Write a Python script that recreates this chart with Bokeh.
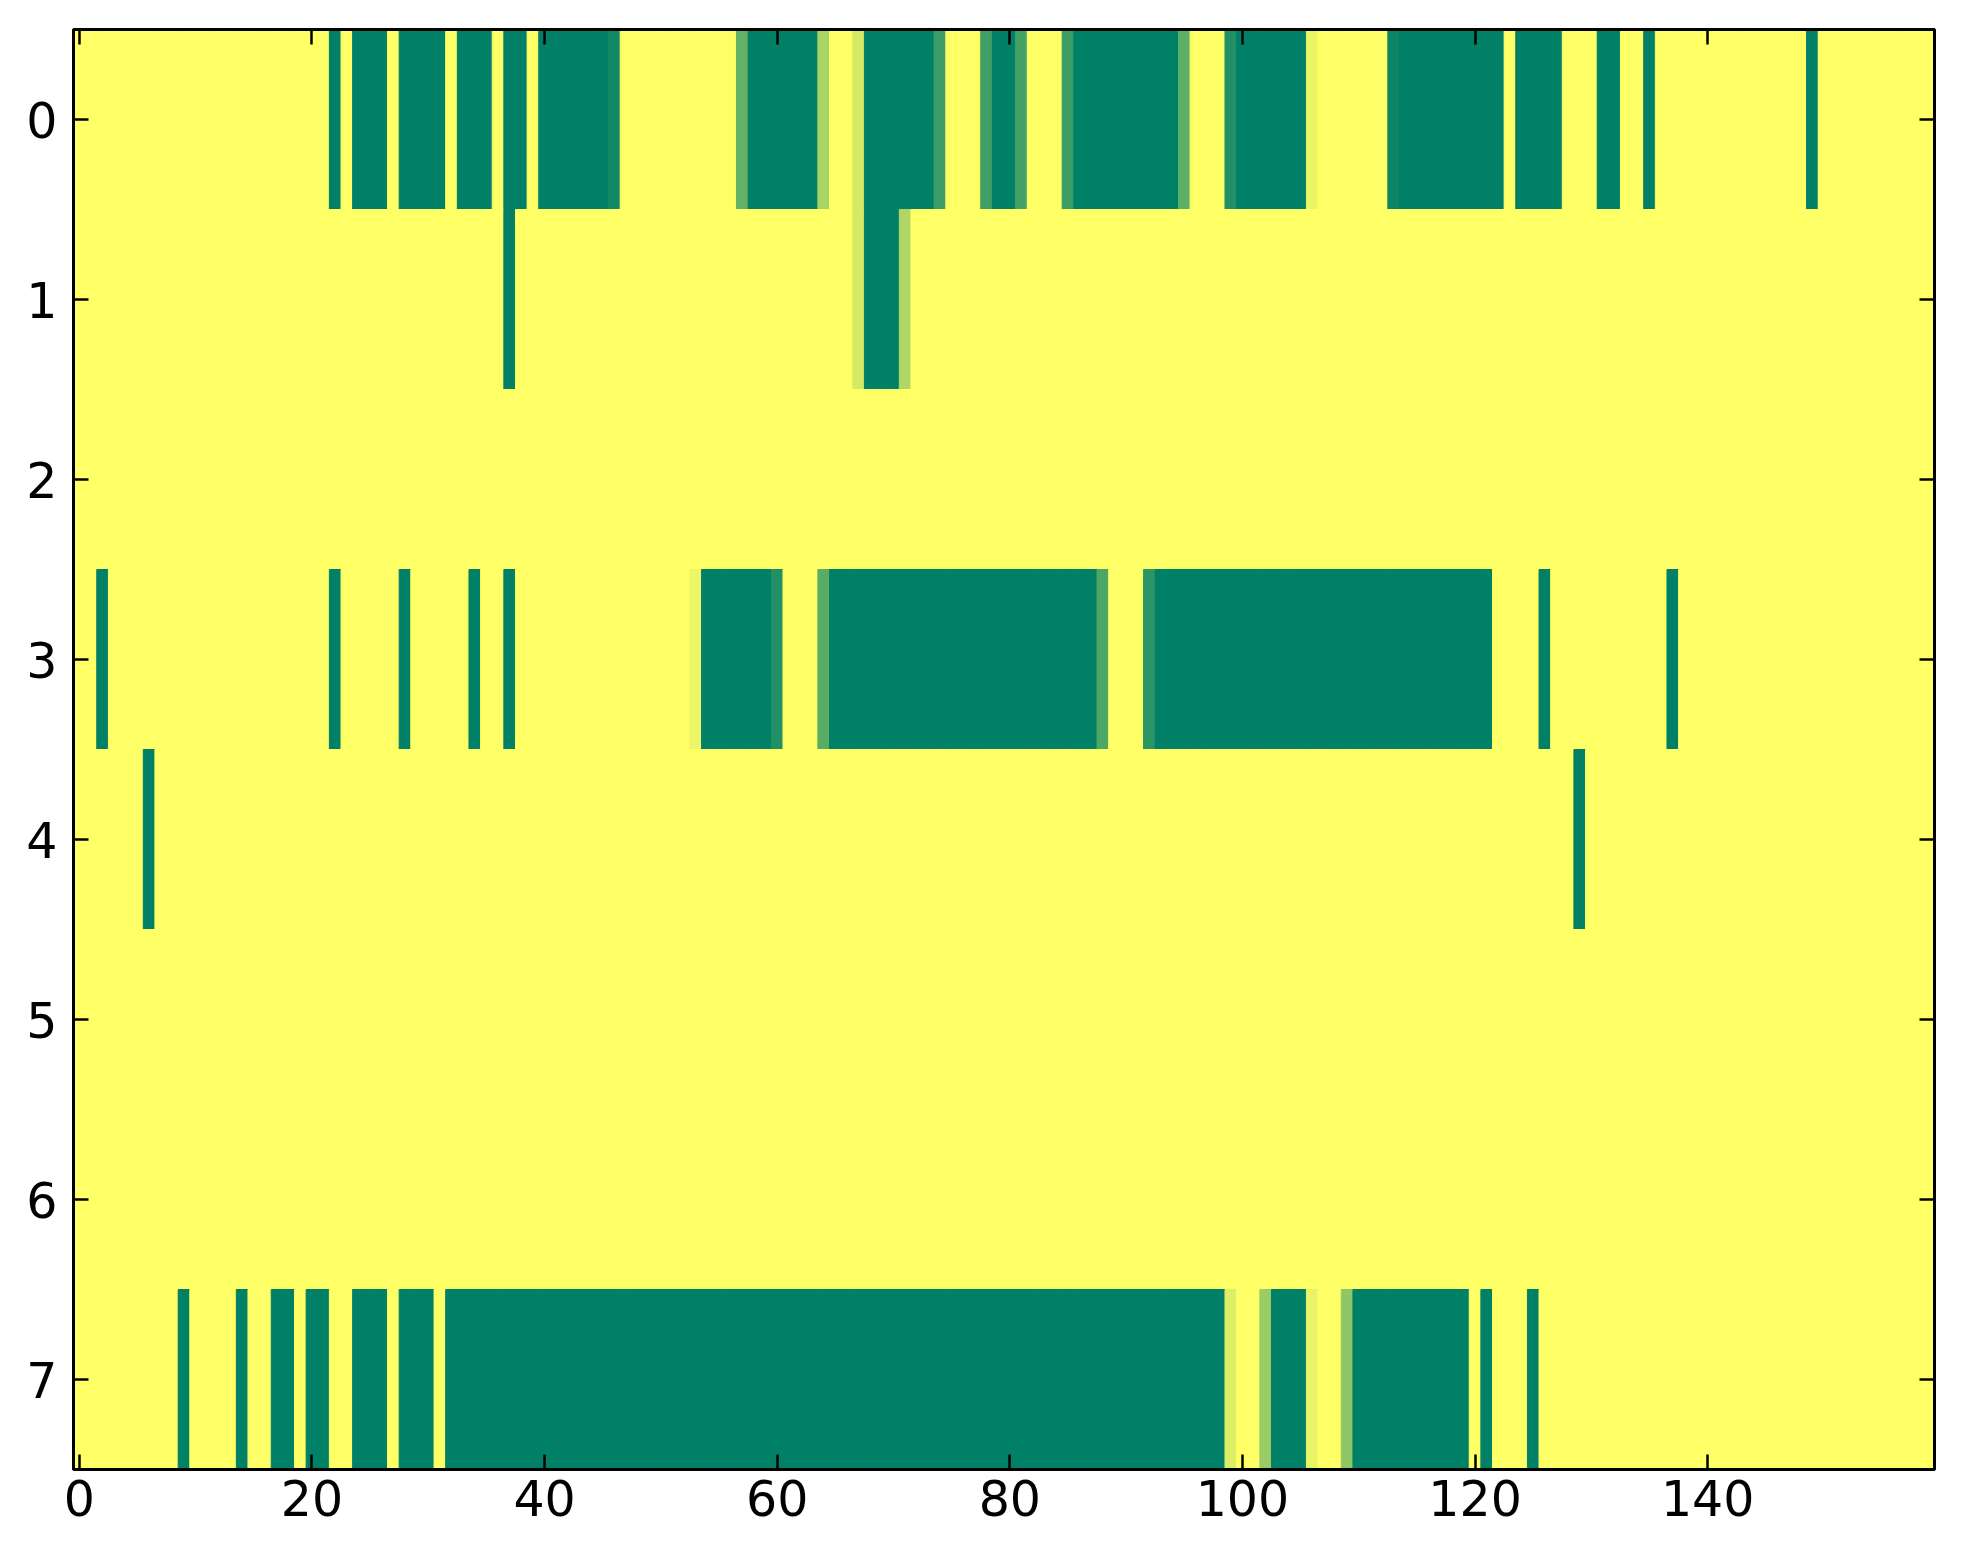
import numpy as np
from bokeh.plotting import figure
from bokeh.models import ColumnDataSource, FixedTicker, LinearAxis, CustomJSTickFormatter, Range1d
from bokeh.embed import file_html
from bokeh.resources import INLINE

n_rows = 8
n_cols = 160
y_ticks = [0, 1, 2, 3, 4, 5, 6, 7]
x_ticks = [0, 20, 40, 60, 80, 100, 120, 140]

# (first column, last column, value); everything else is 0
row0_runs = [(22, 22, 1.0), (24, 26, 1.0), (28, 31, 1.0), (33, 35, 1.0), (37, 38, 1.0),
             (40, 45, 1.0), (46, 46, 0.93), (57, 57, 0.61), (58, 63, 1.0), (64, 64, 0.34),
             (67, 67, 0.17), (68, 73, 1.0), (74, 74, 0.77), (78, 78, 0.75), (79, 80, 1.0),
             (81, 81, 0.73), (85, 85, 0.77), (86, 94, 1.0), (95, 95, 0.63), (99, 99, 0.87),
             (100, 105, 1.0), (106, 106, 0.08), (113, 113, 0.95), (114, 122, 1.0),
             (124, 127, 1.0), (131, 132, 1.0), (135, 135, 1.0), (149, 149, 1.0)]
row1_runs = [(37, 37, 1.0), (67, 67, 0.17), (68, 70, 1.0), (71, 71, 0.31)]
row2_runs = []
row3_runs = [(2, 2, 1.0), (22, 22, 1.0), (28, 28, 1.0), (34, 34, 1.0), (37, 37, 1.0),
             (53, 53, 0.07), (54, 59, 1.0), (60, 60, 0.87), (64, 64, 0.65), (65, 87, 1.0),
             (88, 88, 0.69), (92, 92, 0.83), (93, 121, 1.0), (126, 126, 1.0), (137, 137, 1.0)]
row4_runs = [(6, 6, 1.0), (129, 129, 1.0)]
row5_runs = []
row6_runs = []
row7_runs = [(9, 9, 1.0), (14, 14, 1.0), (17, 18, 1.0), (20, 21, 1.0), (24, 26, 1.0),
             (28, 30, 1.0), (32, 98, 1.0), (99, 99, 0.13), (102, 102, 0.40), (103, 105, 1.0),
             (106, 106, 0.09), (109, 109, 0.44), (110, 119, 1.0), (121, 121, 1.0),
             (125, 125, 1.0)]

rows = [row0_runs, row1_runs, row2_runs, row3_runs, row4_runs, row5_runs, row6_runs, row7_runs]

grid = np.zeros((n_rows, n_cols))
for r, runs in enumerate(rows):
    for a, b, v in runs:
        grid[r, a:b + 1] = v


def summer_r(v):
    t = 1.0 - v
    return "#%02x%02x%02x" % (int(round(255 * t)), int(round(255 * (0.5 + t / 2))), 102)


rr, cc = np.meshgrid(np.arange(n_rows), np.arange(n_cols), indexing="ij")
vals = grid.ravel()
source = ColumnDataSource(dict(
    left=cc.ravel() - 0.5, right=cc.ravel() + 0.5,
    top=rr.ravel() - 0.5, bottom=rr.ravel() + 0.5,
    color=[summer_r(v) for v in vals],
))

p = figure(frame_width=1861, frame_height=1440,
           x_range=Range1d(-0.5, n_cols - 0.5), y_range=Range1d(n_rows - 0.5, -0.5),
           output_backend="svg", toolbar_location=None,
           min_border_left=73, min_border_top=29, min_border_right=20, min_border_bottom=75)
p.quad(left="left", right="right", top="top", bottom="bottom", source=source,
       fill_color="color", line_color="color", line_width=1)

p.xgrid.visible = False
p.ygrid.visible = False
p.outline_line_color = "black"
p.outline_line_width = 3
p.background_fill_color = "#ffff66"

p.add_layout(LinearAxis(), "above")
p.add_layout(LinearAxis(), "right")

blank = CustomJSTickFormatter(code="return ''")
for ax in p.xaxis:
    ax.ticker = FixedTicker(ticks=x_ticks)
for ax in p.yaxis:
    ax.ticker = FixedTicker(ticks=y_ticks)
for ax in p.axis:
    ax.axis_line_width = 3
    ax.major_tick_in = 15
    ax.major_tick_out = 0
    ax.major_tick_line_width = 2.5
    ax.minor_tick_line_color = None
    ax.major_label_text_font = "DejaVu Sans"
    ax.major_label_text_font_size = "49px"
    ax.major_label_text_color = "black"
p.below[0].major_label_standoff = 10
p.left[0].major_label_standoff = 16
p.above[0].formatter = blank
p.right[0].formatter = blank
p.above[0].major_label_standoff = 0
p.right[0].major_label_standoff = 0

open("out.html", "w").write(file_html(p, INLINE))
